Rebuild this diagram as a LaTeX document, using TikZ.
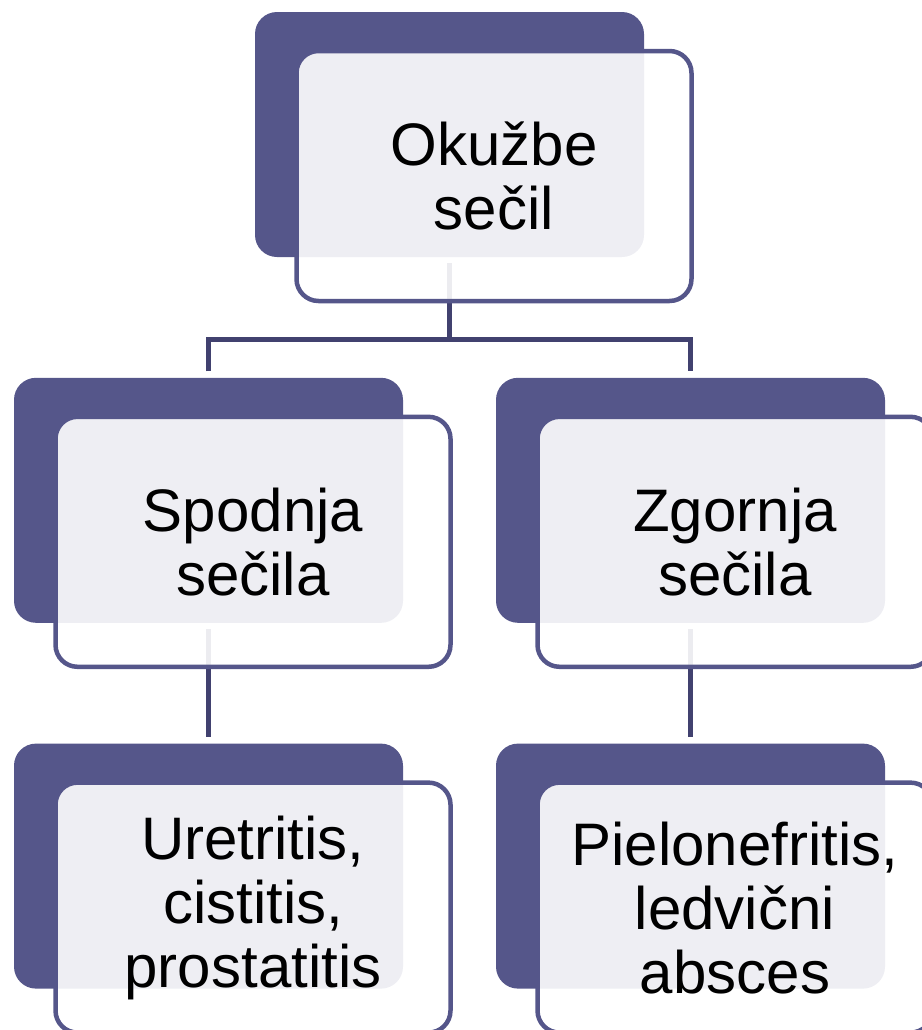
\documentclass[tikz,border=0pt]{standalone}
\usepackage{fontspec}
\setmainfont{Liberation Sans}
\usepackage{xcolor}
\usepackage{tikz}
\usetikzlibrary{positioning}
\definecolor{boxpurple}{HTML}{55568A}
\definecolor{linepurple}{HTML}{41416F}

\begin{document}
\begin{tikzpicture}[
node distance=60pt and 47pt,
backbox/.style={fill=boxpurple, rounded corners=11pt, minimum width=194.5pt,
minimum height=122.5pt, inner sep=0pt},
frontbox/.style={draw=boxpurple, line width=2.25pt, fill=white, fill opacity=0.9,
text opacity=1, rounded corners=11pt, minimum width=197.5pt, minimum height=125pt,
inner sep=0pt, align=center, font=\fontsize{30}{32}\selectfont},
connline/.style={draw=linepurple, line width=2.5pt}
]
\path[use as bounding box, clip] (0,0) rectangle (461pt,-515pt);
\node[backbox] (okuzbe) at (224.75pt,-67.25pt) {};
\node[backbox, below=of okuzbe, xshift=-120.5pt] (spodnja) {};
\node[backbox, below=of okuzbe, xshift=120.5pt] (zgornja) {};
\node[backbox, below=of spodnja] (uretritis) {};
\node[backbox, below=of zgornja] (pielo) {};

\coordinate (split) at ([yshift=-41pt]okuzbe.south);
\draw[connline] ([yshift=-3pt]okuzbe.south) -- (split);
\draw[connline] ([yshift=3pt]spodnja.north) |- (split) -| ([yshift=3pt]zgornja.north);
\draw[connline] ([yshift=-3pt]spodnja.south) -- ([yshift=3pt]uretritis.north);
\draw[connline] ([yshift=-3pt]zgornja.south) -- ([yshift=3pt]pielo.north);

\node[frontbox] (okuzbetxt) at ([shift={(22.25pt,-20.75pt)}]okuzbe.center) {Okužbe\\sečil};
\node[frontbox] (spodnjatxt) at ([shift={(22.25pt,-20.75pt)}]spodnja.center) {Spodnja\\sečila};
\node[frontbox] (zgornjatxt) at ([shift={(22.25pt,-20.75pt)}]zgornja.center) {Zgornja\\sečila};
\node[frontbox] (uretritistxt) at ([shift={(22.25pt,-20.75pt)}]uretritis.center) {Uretritis,\\cistitis,\\prostatitis};
\node[frontbox] (pielotxt) at ([shift={(22.25pt,-20.75pt)}]pielo.center) {Pielonefritis,\\ledvični\\absces};
\end{tikzpicture}
\end{document}
